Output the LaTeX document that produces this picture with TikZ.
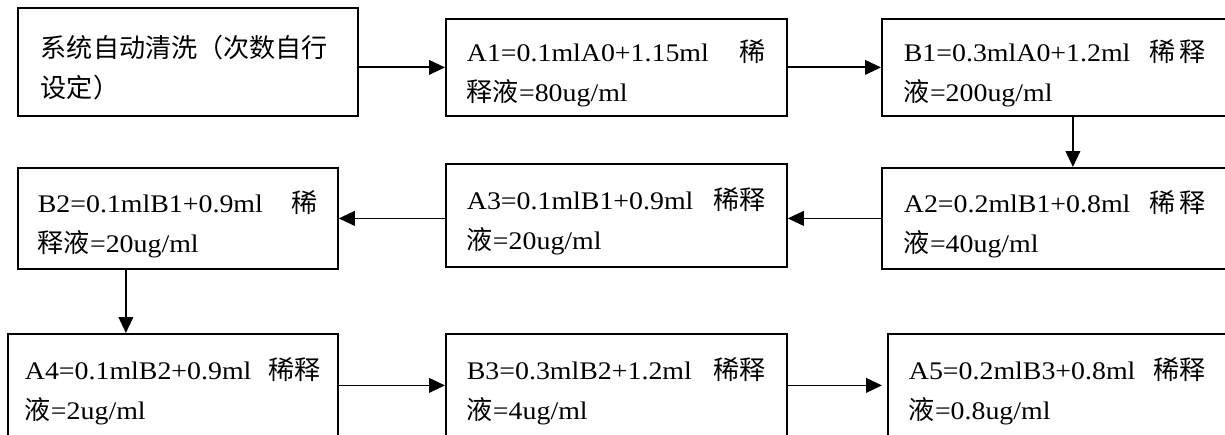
\documentclass[tikz,border=0pt]{standalone}
\usepackage{fontspec}
\setmainfont{Liberation Serif}[FakeStretch=1.1]
\newfontfamily\cjk{Noto Sans CJK SC}[Scale=1.03]
\usepackage{tikz}
\usetikzlibrary{positioning,arrows.meta}

\begin{document}
\begin{tikzpicture}[x=0.75pt,y=-0.75pt]
  \newlength{\pxu}\setlength{\pxu}{0.75pt}
  \newcommand{\zh}[1]{{\cjk #1}}
  \newcommand{\steptext}[2]{\rule{0pt}{34\pxu}#1\\#2}

  \tikzstyle{stepbox}   = [rectangle, draw, line width=1.35pt, anchor=north west, align=left, inner xsep=21\pxu, inner ysep=4\pxu, font=\fontsize{19pt}{30pt}\selectfont]
  \tikzstyle{connector} = [line width=1.35pt, -{Triangle[length=12pt, width=11pt]}]

  \useasboundingbox (0,0) rectangle (1225,435);
  \clip (0,0) rectangle (1225,435);

  \node [stepbox, text width=294\pxu, inner xsep=23\pxu, minimum height=108\pxu] (clean) at (17,7)   {\steptext{\zh{系统自动清洗（次数自行}}{\zh{设定）}}};
  \node [stepbox, text width=299\pxu, minimum height=97\pxu]                     (a1)    at (445,18)  {\steptext{A1=0.1mlA0+1.15ml\hfill\zh{稀}}{\zh{释液}=80ug/ml}};
  \node [stepbox, text width=302\pxu, inner xsep=22\pxu, minimum height=97\pxu]  (b1)    at (881,18)  {\steptext{B1=0.3mlA0+1.2ml\hfill\zh{稀}\hspace{4\pxu}\zh{释}}{\zh{液}=200ug/ml}};
  \node [stepbox, text width=302\pxu, inner xsep=22\pxu, minimum height=101\pxu] (a2)    at (881,167) {\steptext{A2=0.2mlB1+0.8ml\hfill\zh{稀}\hspace{4\pxu}\zh{释}}{\zh{液}=40ug/ml}};
  \node [stepbox, text width=299\pxu, minimum height=103\pxu]                    (a3)    at (445,163) {\steptext{A3=0.1mlB1+0.9ml\hfill\zh{稀释}}{\zh{液}=20ug/ml}};
  \node [stepbox, text width=280\pxu, inner xsep=20\pxu, minimum height=101\pxu] (b2)    at (17,167)  {\steptext{B2=0.1mlB1+0.9ml\hfill\zh{稀}}{\zh{释液}=20ug/ml}};
  \node [stepbox, text width=296\pxu, inner xsep=17\pxu, minimum height=103\pxu] (a4)    at (7,333)   {\steptext{A4=0.1mlB2+0.9ml\hfill\zh{稀释}}{\zh{液}=2ug/ml}};
  \node [stepbox, text width=299\pxu, minimum height=103\pxu]                    (b3)    at (445,333) {\steptext{B3=0.3mlB2+1.2ml\hfill\zh{稀释}}{\zh{液}=4ug/ml}};
  \node [stepbox, text width=297\pxu, minimum height=103\pxu]                    (a5)    at (887,333) {\steptext{A5=0.2mlB3+0.8ml\hfill\zh{稀释}}{\zh{液}=0.8ug/ml}};

  \draw [connector] (clean.east |- a1.west) -- (a1.west);
  \draw [connector] (a1.east) -- (b1.west);
  \draw [connector] ([xshift=18\pxu]b1.south) -- ([xshift=18\pxu]a2.north);
  \draw [connector] (a2.west) -- (a2.west -| a3.east);
  \draw [connector] (a3.west |- b2.east) -- (b2.east);
  \draw [connector] ([xshift=-52\pxu]b2.south) -- ([xshift=-52\pxu]b2.south |- a4.north);
  \draw [connector] (a4.east) -- (b3.west);
  \draw [connector] (b3.east) -- ([xshift=-5\pxu]a5.west);
\end{tikzpicture}
\end{document}
